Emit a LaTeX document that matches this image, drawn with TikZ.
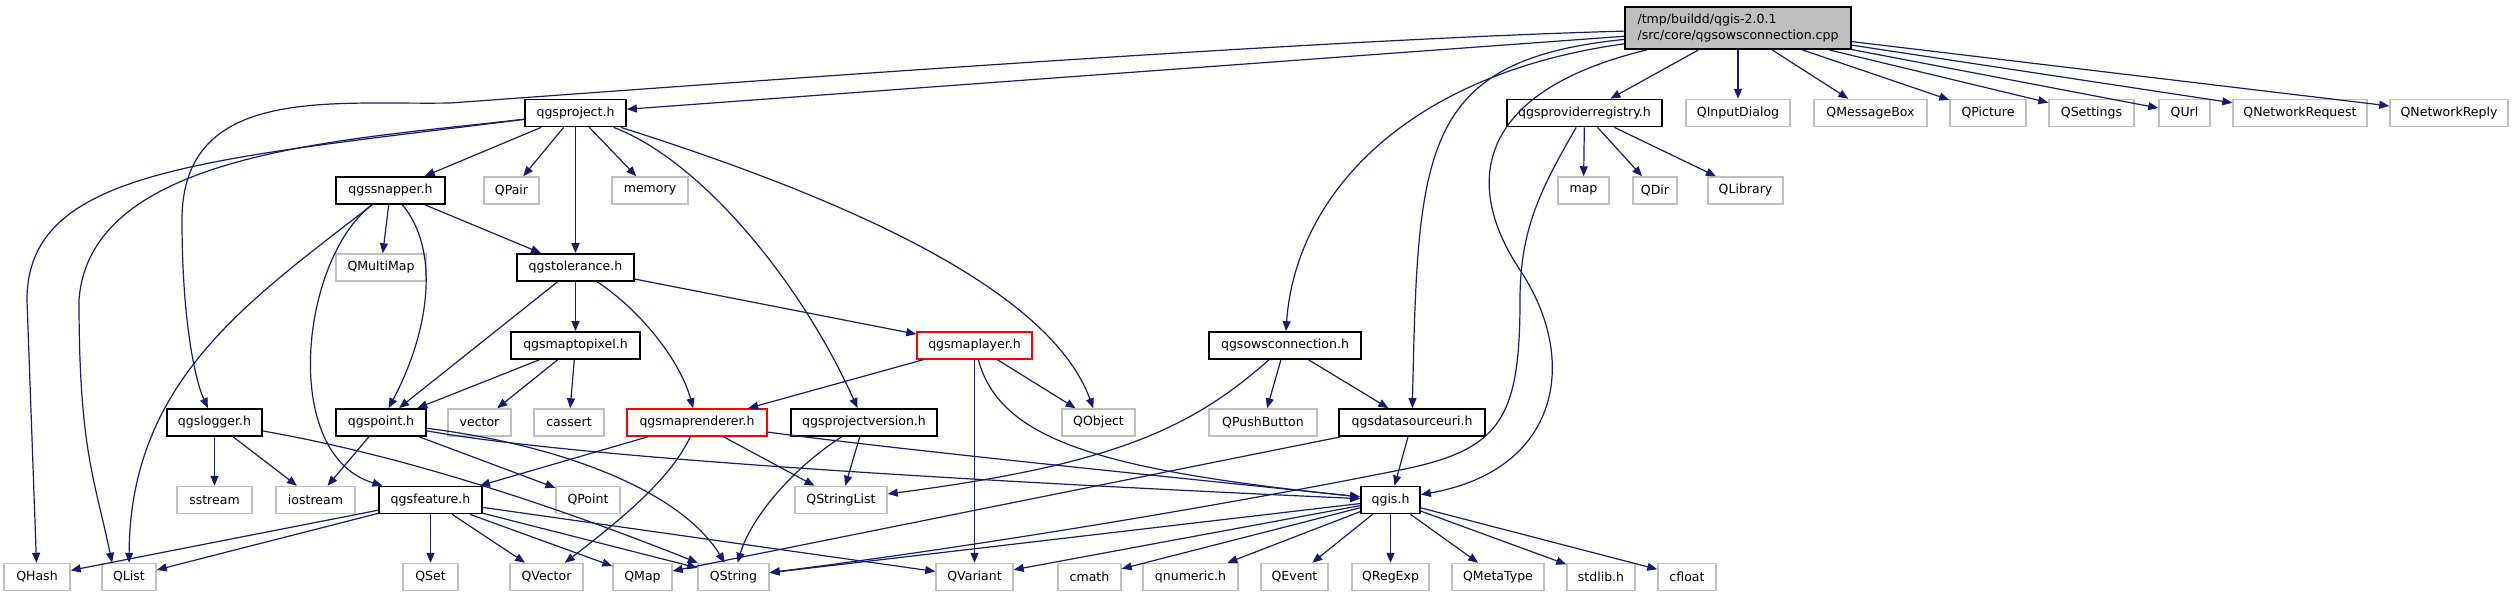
\documentclass[tikz,border=0pt]{standalone}
\usepackage{fontspec}
\setmainfont{DejaVu Sans}
\usepackage{tikz}
\usetikzlibrary{arrows.meta}
\definecolor{EdgeBlue}{RGB}{25,25,112}
\definecolor{BoxGrey}{RGB}{191,191,191}
\definecolor{FileRed}{RGB}{255,0,0}

\tikzset{
  filebox/.style={rectangle, fill=white, inner sep=0pt, minimum height=27*0.75pt,
    minimum width=#1*0.75pt, font=\fontsize{9.4}{12}\selectfont},
  hdr/.style={filebox=#1, draw=black, line width=1.3pt},
  sys/.style={filebox=#1, draw=BoxGrey, line width=1.1pt},
  redhdr/.style={filebox=#1, draw=FileRed, line width=1.1pt},
  dep/.style={draw=EdgeBlue, line width=0.9pt, -{Triangle[length=7.5pt,width=6pt]}},
}

\begin{document}
\begin{tikzpicture}[x=0.75pt, y=-0.75pt]
    \useasboundingbox (0,0) rectangle (2513,597);

    % Root file
    \node[hdr=226, minimum height=42*0.75pt, fill=BoxGrey, align=left] (main) at (1738,28)
        {/tmp/buildd/qgis-2.0.1\\/src/core/qgsowsconnection.cpp};

    % Level 1
    \node[hdr=101] (project) at (575.5,113) {qgsproject.h};
    \node[hdr=155] (provreg) at (1584.5,113) {qgsproviderregistry.h};
    \node[sys=104] (qinputdialog) at (1738,113) {QInputDialog};
    \node[sys=113] (qmessagebox) at (1870.5,113) {QMessageBox};
    \node[sys=76] (qpicture) at (1988,113) {QPicture};
    \node[sys=85] (qsettings) at (2091.5,113) {QSettings};
    \node[sys=51] (qurl) at (2184.5,113) {QUrl};
    \node[sys=134] (qnetreq) at (2300,113) {QNetworkRequest};
    \node[sys=118] (qnetreply) at (2449,113) {QNetworkReply};

    % Level 2
    \node[hdr=109] (snapper) at (390.5,190.5) {qgssnapper.h};
    \node[sys=55] (qpair) at (511.5,190.5) {QPair};
    \node[sys=76] (memory) at (650,190.5) {memory};
    \node[sys=51] (map) at (1583.5,190.5) {map};
    \node[sys=44] (qdir) at (1655,190.5) {QDir};
    \node[sys=75] (qlibrary) at (1745.5,190.5) {QLibrary};

    % Level 3
    \node[sys=90] (qmultimap) at (381,267.5) {QMultiMap};
    \node[hdr=117] (tolerance) at (575.5,267.5) {qgstolerance.h};

    % Level 4
    \node[hdr=129] (maptopixel) at (575.5,345.5) {qgsmaptopixel.h};
    \node[redhdr=115] (maplayer) at (974.5,345.5) {qgsmaplayer.h};
    \node[hdr=152] (owsconn) at (1285,345.5) {qgsowsconnection.h};

    % Level 5
    \node[hdr=95] (logger) at (214.5,422.5) {qgslogger.h};
    \node[hdr=90] (point) at (381,422.5) {qgspoint.h};
    \node[sys=63] (vector) at (479.5,422.5) {vector};
    \node[sys=70] (cassert) at (569,422.5) {cassert};
    \node[redhdr=140] (maprenderer) at (697,422.5) {qgsmaprenderer.h};
    \node[hdr=146] (projversion) at (864,422.5) {qgsprojectversion.h};
    \node[sys=73] (qobject) at (1098.5,422.5) {QObject};
    \node[sys=108] (qpushbutton) at (1263,422.5) {QPushButton};
    \node[hdr=146] (dsuri) at (1412,422.5) {qgsdatasourceuri.h};

    % Level 6
    \node[sys=75] (sstream) at (214.5,500) {sstream};
    \node[sys=79] (iostream) at (315.5,500) {iostream};
    \node[hdr=103] (feature) at (430.5,500) {qgsfeature.h};
    \node[sys=64] (qpoint) at (588,500) {QPoint};
    \node[sys=92] (qstringlist) at (841,500) {QStringList};
    \node[hdr=59] (qgis) at (1390.5,500) {qgis.h};

    % Level 7
    \node[sys=66] (qhash) at (37,577) {QHash};
    \node[sys=54] (qlist) at (129,577) {QList};
    \node[sys=55] (qset) at (430.5,577) {QSet};
    \node[sys=73] (qvector) at (546.5,577) {QVector};
    \node[sys=59] (qmap) at (642.5,577) {QMap};
    \node[sys=71] (qstring) at (733.5,577) {QString};
    \node[sys=77] (qvariant) at (974.5,577) {QVariant};
    \node[sys=63] (cmath) at (1089.5,577) {cmath};
    \node[sys=95] (qnumeric) at (1190.5,577) {qnumeric.h};
    \node[sys=67] (qevent) at (1294.5,577) {QEvent};
    \node[sys=77] (qregexp) at (1390.5,577) {QRegExp};
    \node[sys=92] (qmetatype) at (1498,577) {QMetaType};
    \node[sys=68] (stdlib) at (1601,577) {stdlib.h};
    \node[sys=58] (cfloat) at (1687,577) {cfloat};

    % Includes of the root file
    \draw[dep] (main) .. controls (1300,40) and (700,85) .. (450,103)
        .. controls (330,105) and (182,85) .. (182,220)
        .. controls (182,320) and (195,380) .. (logger);
    \draw[dep] (main) -- (project);
    \draw[dep] (main) -- (provreg);
    \draw[dep] (main) -- (qinputdialog);
    \draw[dep] (main) -- (qmessagebox);
    \draw[dep] (main) -- (qpicture);
    \draw[dep] (main) -- (qsettings);
    \draw[dep] (main) -- (qurl);
    \draw[dep] (main) -- (qnetreq);
    \draw[dep] (main) -- (qnetreply);
    \draw[dep] (main) .. controls (1400,75) and (1295,200) .. (owsconn);
    \draw[dep] (main) .. controls (1420,60) and (1418,150) .. (dsuri);
    \draw[dep] (main) .. controls (1480,90) and (1460,180) .. (1520,270)
        .. controls (1580,360) and (1560,470) .. (qgis);

    % qgsproviderregistry.h
    \draw[dep] (provreg) -- (map);
    \draw[dep] (provreg) -- (qdir);
    \draw[dep] (provreg) -- (qlibrary);
    \draw[dep] (provreg) .. controls (1540,190) and (1520,230) .. (1520,300)
        .. controls (1520,420) and (1500,450) .. (1400,470)
        .. controls (1200,510) and (950,550) .. (qstring);

    % qgsowsconnection.h
    \draw[dep] (owsconn) -- (qpushbutton);
    \draw[dep] (owsconn) -- (dsuri);
    \draw[dep] (owsconn) .. controls (1190,430) and (1110,465) .. (qstringlist);

    % qgsdatasourceuri.h
    \draw[dep] (dsuri) -- (qgis);
    \draw[dep] (dsuri) -- (qmap);

    % qgsproject.h
    \draw[dep] (project) .. controls (200,160) and (27,170) .. (27,300) -- (qhash);
    \draw[dep] (project) .. controls (350,140) and (90,150) .. (79,300)
        .. controls (79,450) and (95,480) .. (qlist.140);
    \draw[dep] (project) -- (snapper);
    \draw[dep] (project) -- (qpair);
    \draw[dep] (project) -- (tolerance);
    \draw[dep] (project) -- (memory);
    \draw[dep] (project) .. controls (700,160) and (800,280) .. (projversion);
    \draw[dep] (project) .. controls (850,200) and (1050,290) .. (qobject);

    % qgssnapper.h
    \draw[dep] (snapper) -- (qmultimap);
    \draw[dep] (snapper) -- (tolerance);
    \draw[dep] (snapper) .. controls (250,300) and (130,380) .. (qlist);
    \draw[dep] (snapper) .. controls (300,260) and (280,455) .. (feature);
    \draw[dep] (snapper) .. controls (440,250) and (430,330) .. (point);

    % qgstolerance.h
    \draw[dep] (tolerance) -- (point);
    \draw[dep] (tolerance) -- (maptopixel);
    \draw[dep] (tolerance) .. controls (640,310) and (680,360) .. (maprenderer);
    \draw[dep] (tolerance) -- (maplayer);

    % qgsmaptopixel.h
    \draw[dep] (maptopixel) -- (point);
    \draw[dep] (maptopixel) -- (vector);
    \draw[dep] (maptopixel) -- (cassert);

    % qgsmaplayer.h
    \draw[dep] (maplayer) -- (maprenderer);
    \draw[dep] (maplayer) -- (qvariant);
    \draw[dep] (maplayer) .. controls (1000,440) and (1100,470) .. (qgis);
    \draw[dep] (maplayer) -- (qobject);

    % qgslogger.h
    \draw[dep] (logger) -- (sstream);
    \draw[dep] (logger) -- (iostream);
    \draw[dep] (logger) .. controls (400,455) and (550,504) .. (qstring);

    % qgspoint.h
    \draw[dep] (point) -- (iostream);
    \draw[dep] (point) -- (qpoint);
    \draw[dep] (point) .. controls (560,445) and (680,490) .. (qstring);
    \draw[dep] (point) .. controls (560,455) and (900,478) .. (qgis);

    % qgsmaprenderer.h
    \draw[dep] (maprenderer) -- (feature);
    \draw[dep] (maprenderer) .. controls (670,480) and (620,520) .. (qvector);
    \draw[dep] (maprenderer) -- (qstringlist);
    \draw[dep] (maprenderer) .. controls (900,450) and (1200,480) .. (qgis);

    % qgsprojectversion.h
    \draw[dep] (projversion) -- (qstringlist);
    \draw[dep] (projversion) .. controls (790,470) and (750,520) .. (qstring);

    % qgsfeature.h
    \draw[dep] (feature) -- (qhash);
    \draw[dep] (feature) -- (qlist);
    \draw[dep] (feature) -- (qset);
    \draw[dep] (feature) -- (qvector);
    \draw[dep] (feature) -- (qmap);
    \draw[dep] (feature) -- (qstring);
    \draw[dep] (feature) -- (qvariant);

    % qgis.h
    \draw[dep] (qgis) -- (qstring);
    \draw[dep] (qgis) -- (qvariant);
    \draw[dep] (qgis) -- (cmath);
    \draw[dep] (qgis) -- (qnumeric);
    \draw[dep] (qgis) -- (qevent);
    \draw[dep] (qgis) -- (qregexp);
    \draw[dep] (qgis) -- (qmetatype);
    \draw[dep] (qgis) -- (stdlib);
    \draw[dep] (qgis) -- (cfloat);
\end{tikzpicture}
\end{document}
